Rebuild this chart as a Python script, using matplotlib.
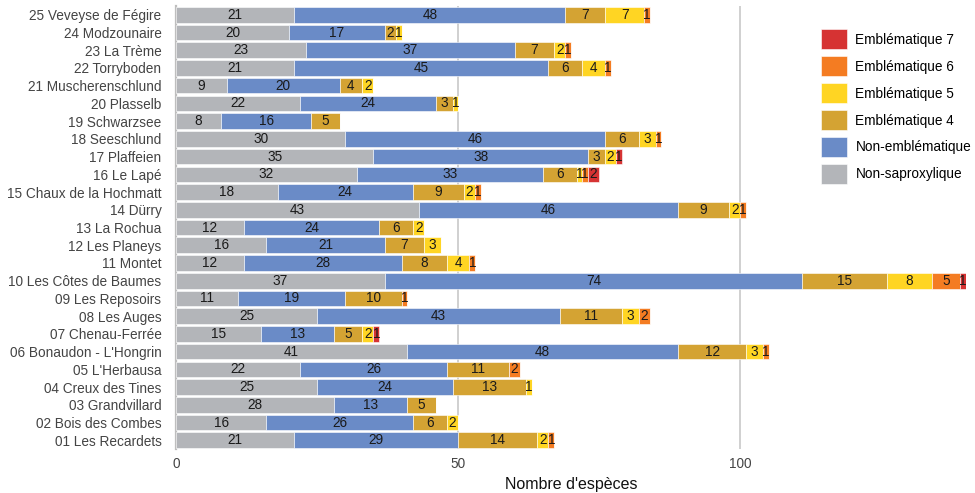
import numpy as np
import matplotlib.pyplot as plt

plt.rcParams['font.family'] = ['Liberation Sans', 'DejaVu Sans']

sites = [
    "01 Les Recardets", "02 Bois des Combes", "03 Grandvillard", "04 Creux des Tines",
    "05 L'Herbausa", "06 Bonaudon - L'Hongrin", "07 Chenau-Ferrée", "08 Les Auges",
    "09 Les Reposoirs", "10 Les Côtes de Baumes", "11 Montet", "12 Les Planeys",
    "13 La Rochua", "14 Dürry", "15 Chaux de la Hochmatt", "16 Le Lapé",
    "17 Plaffeien", "18 Seeschlund", "19 Schwarzsee", "20 Plasselb",
    "21 Muscherenschlund", "22 Torryboden", "23 La Trème", "24 Modzounaire",
    "25 Veveyse de Fégire",
]

non_saproxylique = [21, 16, 28, 25, 22, 41, 15, 25, 11, 37, 12, 16, 12, 43, 18, 32, 35, 30, 8, 22, 9, 21, 23, 20, 21]
non_emblematique = [29, 26, 13, 24, 26, 48, 13, 43, 19, 74, 28, 21, 24, 46, 24, 33, 38, 46, 16, 24, 20, 45, 37, 17, 48]
emblematique_4 = [14, 6, 5, 13, 11, 12, 5, 11, 10, 15, 8, 7, 6, 9, 9, 6, 3, 6, 5, 3, 4, 6, 7, 2, 7]
emblematique_5 = [2, 2, 0, 1, 0, 3, 2, 3, 0, 8, 4, 3, 2, 2, 2, 1, 2, 3, 0, 1, 2, 4, 2, 1, 7]
emblematique_6 = [1, 0, 0, 0, 2, 1, 0, 2, 1, 5, 1, 0, 0, 1, 1, 1, 0, 1, 0, 0, 0, 1, 1, 0, 1]
emblematique_7 = [0, 0, 0, 0, 0, 0, 1, 0, 0, 1, 0, 0, 0, 0, 0, 2, 1, 0, 0, 0, 0, 0, 0, 0, 0]

series = [
    ("Non-saproxylique", non_saproxylique, "#B3B5B9"),
    ("Non-emblématique", non_emblematique, "#6A8BC7"),
    ("Emblématique 4", emblematique_4, "#D4A333"),
    ("Emblématique 5", emblematique_5, "#FFD523"),
    ("Emblématique 6", emblematique_6, "#F47C22"),
    ("Emblématique 7", emblematique_7, "#D63333"),
]

fig = plt.figure(figsize=(9.75, 4.93), dpi=100)
ax = fig.add_axes([0.1805, 0.089, 0.8103, 0.899])

y = np.arange(len(sites))
left = np.zeros(len(sites))
handles = []
for nom, valeurs, couleur in series:
    valeurs = np.array(valeurs, dtype=float)
    barres = ax.barh(y, valeurs, left=left, height=0.88, color=couleur,
                     edgecolor="white", linewidth=0.4, label=nom, zorder=3)
    handles.append(barres)
    for yi, l, v in zip(y, left, valeurs):
        if v > 0:
            ax.text(l + v / 2, yi, f"{int(v)}", ha="center", va="center",
                    fontsize=9.8, color="#1a1a1a", zorder=4)
    left += valeurs

ax.set_xlim(0, 140)
ax.set_ylim(-0.5, len(sites) - 0.5)
ax.set_yticks(y)
ax.set_yticklabels(sites, fontsize=9.8, color="#444444")
ax.set_xticks([0, 50, 100])
ax.set_xticklabels(["0", "50", "100"], fontsize=9.8, color="#444444")
ax.set_xlabel("Nombre d'espèces", fontsize=11.5, color="#111111", labelpad=4)

for s in ["top", "right", "bottom"]:
    ax.spines[s].set_visible(False)
ax.spines["left"].set_color("#BEBEBE")
ax.spines["left"].set_linewidth(1.6)
ax.tick_params(axis="y", length=0, pad=10.5)
ax.tick_params(axis="x", length=0, pad=6)
ax.grid(axis="x", color="#C8C8C8", linewidth=1.2, zorder=0)
ax.set_axisbelow(True)

# legende en haut a droite, dans le graphique
leg = ax.legend(handles[::-1], [s[0] for s in series][::-1], loc="upper right",
                bbox_to_anchor=(1.022, 0.975), frameon=True, framealpha=1,
                edgecolor="white", fontsize=9.8, handlelength=1.9, handleheight=1.9,
                labelspacing=0.5, handletextpad=0.6, borderpad=0.4)

plt.savefig("out.png", dpi=100)
